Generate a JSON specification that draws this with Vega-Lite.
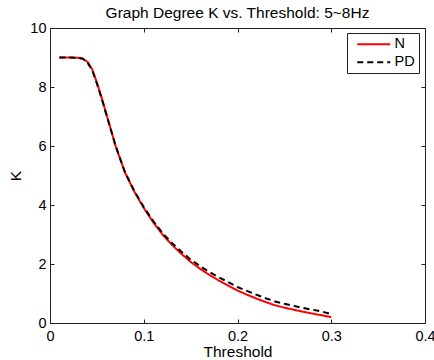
{
  "$schema": "https://vega.github.io/schema/vega-lite/v6.json",
  "width": 375,
  "height": 295,
  "autosize": "none",
  "padding": {"left": 50, "top": 28, "right": 9, "bottom": 37},
  "background": "white",
  "title": {
    "text": "Graph Degree K vs. Threshold: 5~8Hz",
    "font": "Liberation Sans",
    "fontSize": 15.5,
    "fontWeight": "normal",
    "color": "#000000",
    "anchor": "middle",
    "frame": "group",
    "offset": -1
  },
  "config": {
    "view": {"stroke": "#222222", "strokeWidth": 1},
    "axis": {
      "domain": false,
      "tickColor": "#222222",
      "tickSize": 4,
      "offset": -4,
      "grid": false,
      "labelFont": "Liberation Sans",
      "labelFontSize": 14.5,
      "labelColor": "#000000",
      "titleFont": "Liberation Sans",
      "titleFontSize": 15.5,
      "titleFontWeight": "normal",
      "titleColor": "#000000"
    },
    "legend": {
      "orient": "none",
      "legendX": 297,
      "legendY": 5,
      "strokeColor": "#222222",
      "fillColor": "white",
      "padding": 4,
      "symbolType": "M-0.2,0H6.4",
      "symbolSize": 100,
      "symbolStrokeWidth": 2,
      "labelFont": "Liberation Sans",
      "labelFontSize": 14.5,
      "labelColor": "#000000",
      "labelOffset": 29,
      "rowPadding": 3
    }
  },
  "resolve": {"axis": {"x": "independent", "y": "independent"}},
  "data": {
    "values": [
      {"t": 0.01, "K": 9.0, "series": "N"},
      {"t": 0.02, "K": 9.0, "series": "N"},
      {"t": 0.03, "K": 8.99, "series": "N"},
      {"t": 0.035, "K": 8.96, "series": "N"},
      {"t": 0.04, "K": 8.85, "series": "N"},
      {"t": 0.045, "K": 8.6, "series": "N"},
      {"t": 0.05, "K": 8.15, "series": "N"},
      {"t": 0.055, "K": 7.65, "series": "N"},
      {"t": 0.06, "K": 7.1, "series": "N"},
      {"t": 0.065, "K": 6.55, "series": "N"},
      {"t": 0.07, "K": 6.0, "series": "N"},
      {"t": 0.075, "K": 5.55, "series": "N"},
      {"t": 0.08, "K": 5.1, "series": "N"},
      {"t": 0.09, "K": 4.45, "series": "N"},
      {"t": 0.1, "K": 3.9, "series": "N"},
      {"t": 0.11, "K": 3.42, "series": "N"},
      {"t": 0.12, "K": 3.0, "series": "N"},
      {"t": 0.13, "K": 2.65, "series": "N"},
      {"t": 0.14, "K": 2.35, "series": "N"},
      {"t": 0.15, "K": 2.07, "series": "N"},
      {"t": 0.16, "K": 1.84, "series": "N"},
      {"t": 0.17, "K": 1.63, "series": "N"},
      {"t": 0.18, "K": 1.44, "series": "N"},
      {"t": 0.19, "K": 1.27, "series": "N"},
      {"t": 0.2, "K": 1.1, "series": "N"},
      {"t": 0.21, "K": 0.96, "series": "N"},
      {"t": 0.22, "K": 0.83, "series": "N"},
      {"t": 0.23, "K": 0.71, "series": "N"},
      {"t": 0.24, "K": 0.6, "series": "N"},
      {"t": 0.25, "K": 0.52, "series": "N"},
      {"t": 0.26, "K": 0.45, "series": "N"},
      {"t": 0.27, "K": 0.38, "series": "N"},
      {"t": 0.28, "K": 0.32, "series": "N"},
      {"t": 0.29, "K": 0.26, "series": "N"},
      {"t": 0.3, "K": 0.2, "series": "N"},
      {"t": 0.01, "K": 9.0, "series": "PD"},
      {"t": 0.02, "K": 9.0, "series": "PD"},
      {"t": 0.03, "K": 8.99, "series": "PD"},
      {"t": 0.035, "K": 8.96, "series": "PD"},
      {"t": 0.04, "K": 8.83, "series": "PD"},
      {"t": 0.045, "K": 8.57, "series": "PD"},
      {"t": 0.05, "K": 8.12, "series": "PD"},
      {"t": 0.055, "K": 7.62, "series": "PD"},
      {"t": 0.06, "K": 7.08, "series": "PD"},
      {"t": 0.065, "K": 6.54, "series": "PD"},
      {"t": 0.07, "K": 6.0, "series": "PD"},
      {"t": 0.075, "K": 5.55, "series": "PD"},
      {"t": 0.08, "K": 5.11, "series": "PD"},
      {"t": 0.09, "K": 4.47, "series": "PD"},
      {"t": 0.1, "K": 3.93, "series": "PD"},
      {"t": 0.11, "K": 3.46, "series": "PD"},
      {"t": 0.12, "K": 3.05, "series": "PD"},
      {"t": 0.13, "K": 2.71, "series": "PD"},
      {"t": 0.14, "K": 2.42, "series": "PD"},
      {"t": 0.15, "K": 2.15, "series": "PD"},
      {"t": 0.16, "K": 1.93, "series": "PD"},
      {"t": 0.17, "K": 1.73, "series": "PD"},
      {"t": 0.18, "K": 1.55, "series": "PD"},
      {"t": 0.19, "K": 1.39, "series": "PD"},
      {"t": 0.2, "K": 1.22, "series": "PD"},
      {"t": 0.21, "K": 1.09, "series": "PD"},
      {"t": 0.22, "K": 0.96, "series": "PD"},
      {"t": 0.23, "K": 0.84, "series": "PD"},
      {"t": 0.24, "K": 0.73, "series": "PD"},
      {"t": 0.25, "K": 0.65, "series": "PD"},
      {"t": 0.26, "K": 0.58, "series": "PD"},
      {"t": 0.27, "K": 0.51, "series": "PD"},
      {"t": 0.28, "K": 0.45, "series": "PD"},
      {"t": 0.29, "K": 0.39, "series": "PD"},
      {"t": 0.3, "K": 0.3, "series": "PD"}
    ]
  },
  "layer": [
    {
      "mark": {"type": "line", "strokeWidth": 2, "clip": true},
      "encoding": {
        "x": {
          "field": "t",
          "type": "quantitative",
          "scale": {"domain": [0, 0.4], "nice": false},
          "axis": {
            "title": "Threshold",
            "values": [0, 0.1, 0.2, 0.3, 0.4],
            "format": "~g",
            "labelPadding": 6,
            "titlePadding": 2,
            "labelFlush": false,
            "labelOverlap": false
          }
        },
        "y": {
          "field": "K",
          "type": "quantitative",
          "scale": {"domain": [0, 10], "nice": false},
          "axis": {
            "title": "K",
            "values": [0, 2, 4, 6, 8, 10],
            "labelPadding": 4,
            "titlePadding": 6,
            "labelFlush": false,
            "labelOverlap": false
          }
        },
        "color": {
          "field": "series",
          "type": "nominal",
          "scale": {"domain": ["N", "PD"], "range": ["#ff0000", "#000000"]},
          "legend": {"title": null, "labelExpr": "datum.label + ' '"}
        },
        "strokeDash": {
          "field": "series",
          "type": "nominal",
          "scale": {"domain": ["N", "PD"], "range": [[1, 0], [6, 4]]},
          "legend": {"title": null, "labelExpr": "datum.label + ' '"}
        }
      }
    },
    {
      "mark": {"type": "line", "strokeOpacity": 0},
      "encoding": {
        "x": {
          "field": "t",
          "type": "quantitative",
          "axis": {"orient": "top", "title": null, "labels": false, "values": [0, 0.1, 0.2, 0.3, 0.4]}
        },
        "y": {
          "field": "K",
          "type": "quantitative",
          "axis": {"orient": "right", "title": null, "labels": false, "values": [0, 2, 4, 6, 8, 10]}
        }
      }
    }
  ]
}
